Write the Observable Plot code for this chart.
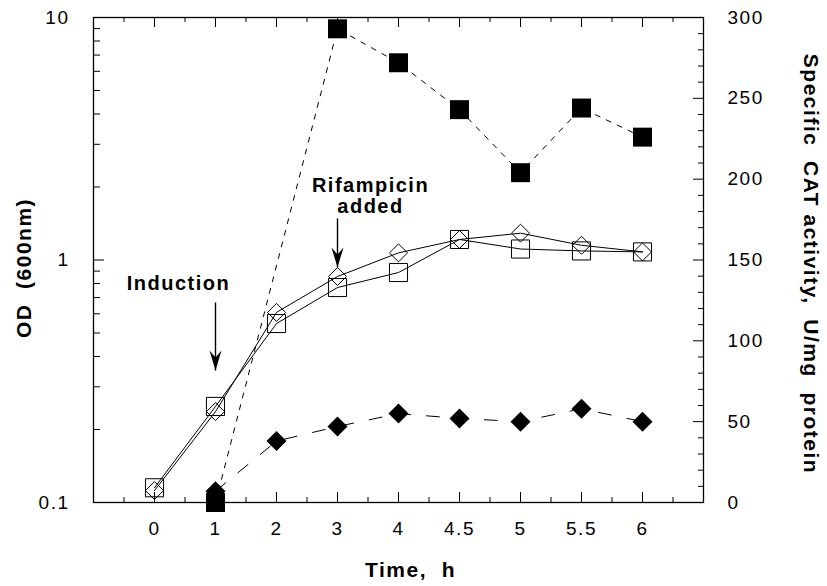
<!DOCTYPE html>
<html>
<head>
<meta charset="utf-8">
<script src="https://cdn.jsdelivr.net/npm/d3@7"></script>
<script src="https://cdn.jsdelivr.net/npm/@observablehq/plot@0.6"></script>
<style>
  html, body { margin: 0; padding: 0; background: white; }
  #wrap { position: relative; width: 827px; height: 586px; background: white; }
  #wrap svg { position: absolute; left: 0; top: 0; }
</style>
</head>
<body>
<div id="wrap"></div>
<script>
// ---- data ----
const times = ["0", "1", "2", "3", "4", "4.5", "5", "5.5", "6"];
// OD (600nm), open squares / open diamonds (left, log axis)
const odOpenSquare  = [0.115, 0.249, 0.547, 0.77, 0.888, 1.215, 1.11, 1.09, 1.08];
const odOpenDiamond = [0.112, 0.237, 0.608, 0.855, 1.07, 1.215, 1.29, 1.15, 1.08];
// Specific CAT activity (right axis)
const catSquareTimes = ["1", "3", "4", "4.5", "5", "5.5", "6"];
const catFilledSquare = [0, 293, 272, 243, 204, 244, 226];
const catDiamondTimes = ["1", "2", "3", "4", "4.5", "5", "5.5", "6"];
const catFilledDiamond = [7, 38, 47, 55, 52, 50, 58, 50];
// tick values
const odTickLabels = [0.1, 1, 10];
const odMinorTicks = [0.2, 0.3, 0.4, 0.5, 0.6, 0.7, 0.8, 0.9, 2, 3, 4, 5, 6, 7, 8, 9];
const catTickLabels = [0, 50, 100, 150, 200, 250, 300];
const catMinorTicks = [10, 20, 30, 40, 60, 70, 80, 90, 110, 120, 130, 140, 160, 170, 180, 190, 210, 220, 230, 240, 260, 270, 280, 290];
const xMajorTicks = [0, 1, 2, 3, 4, 5, 6, 7, 8];
const xMinorTicks = [-0.5, 0.5, 1.5, 2.5, 3.5, 4.5, 5.5, 6.5, 7.5, 8.5];
// annotations (x at a time point, y in OD units)
const annotations = [
  {label: "Induction", t: "1", textOD: 0.80, dx: -37, fromOD: 0.668, toOD: 0.35},
  {label: "Rifampicin\nadded", t: "3", textOD: 1.836, dx: 33, fromOD: 1.483, toOD: 0.931}
];

// ---- derived tables ----
const xi = t => times.indexOf(t);
const odSq = times.map((t, i) => ({t, v: odOpenSquare[i]}));
const odDi = times.map((t, i) => ({t, v: odOpenDiamond[i]}));
const catSq = catSquareTimes.map((t, i) => ({t, v: catFilledSquare[i]}));
const catDi = catDiamondTimes.map((t, i) => ({t, v: catFilledDiamond[i]}));

const W = 827, H = 586;
const M = {top: 17, right: 124, bottom: 84, left: 93};
const innerW = W - M.left - M.right;
const innerH = H - M.top - M.bottom;
const font = "'Liberation Sans', Arial, Helvetica, sans-serif";
const baseStyle = {fontFamily: font, letterSpacing: "1.5px", background: "transparent", color: "black", overflow: "visible"};
const xScale = {type: "linear", domain: [-1, 9], axis: null};

const arrowHead = {
  draw(ctx) {
    ctx.moveTo(0, 0);
    ctx.lineTo(-6, -20);
    ctx.lineTo(0, -13);
    ctx.lineTo(6, -20);
    ctx.closePath();
  }
};

// ---- left (OD) plot ----
const plotOD = Plot.plot({
  width: W, height: H,
  marginTop: M.top, marginRight: M.right, marginBottom: M.bottom, marginLeft: M.left,
  style: baseStyle,
  x: xScale,
  y: {type: "log", domain: [0.1, 10], axis: null},
  marks: [
    // x ticks bottom & top (inward)
    Plot.tickX(xMajorTicks, {x: d => d, insetTop: innerH - 10, stroke: "black"}),
    Plot.tickX(xMinorTicks, {x: d => d, insetTop: innerH - 5, stroke: "black"}),
    Plot.tickX(xMajorTicks, {x: d => d, insetBottom: innerH - 10, stroke: "black"}),
    Plot.tickX(xMinorTicks, {x: d => d, insetBottom: innerH - 5, stroke: "black"}),
    // left ticks (inward)
    Plot.tickY(odTickLabels, {y: d => d, insetRight: innerW - 11, stroke: "black"}),
    Plot.tickY(odMinorTicks, {y: d => d, insetRight: innerW - 7, stroke: "black"}),
    Plot.frame({stroke: "black", strokeWidth: 1.3}),
    // tick labels
    Plot.text(times, {x: (d, i) => i, frameAnchor: "bottom", lineAnchor: "middle", dy: 26, text: d => d, fontSize: 19, fill: "black"}),
    Plot.text(odTickLabels, {y: d => d, frameAnchor: "left", dx: -24, textAnchor: "end", text: d => String(d), fontSize: 19, fill: "black"}),
    // axis titles
    Plot.text(["OD  (600nm)"], {frameAnchor: "left", textAnchor: "middle", lineAnchor: "middle", dx: -69, dy: 8, rotate: -90, fontSize: 21, fontWeight: "bold", fill: "black"}),
    Plot.text(["Time,  h"], {frameAnchor: "bottom", textAnchor: "middle", lineAnchor: "middle", dx: 12, dy: 68, fontSize: 21, fontWeight: "bold", fill: "black"}),
    // OD series
    Plot.line(odSq, {x: d => xi(d.t), y: "v", stroke: "black", strokeWidth: 1}),
    Plot.line(odDi, {x: d => xi(d.t), y: "v", stroke: "black", strokeWidth: 1}),
    Plot.dot(odSq, {x: d => xi(d.t), y: "v", symbol: "square", r: 10.2, stroke: "black", fill: "none", strokeWidth: 1}),
    Plot.dot(odDi, {x: d => xi(d.t), y: "v", symbol: "diamond2", r: 8.1, stroke: "black", fill: "none", strokeWidth: 1}),
    // annotations
    ...annotations.map(a => Plot.text([a], {x: d => xi(d.t), y: "textOD", dx: a.dx, text: "label", fontSize: 20, fontWeight: "bold", lineHeight: 1.05, fill: "black"})),
    Plot.link(annotations, {x1: d => xi(d.t), x2: d => xi(d.t), y1: "fromOD", y2: "toOD", stroke: "black", strokeWidth: 1.4}),
    Plot.dot(annotations, {x: d => xi(d.t), y: "toOD", symbol: arrowHead, fill: "black", stroke: "none"})
  ]
});

// ---- right (CAT activity) plot ----
const plotCAT = Plot.plot({
  width: W, height: H,
  marginTop: M.top, marginRight: M.right, marginBottom: M.bottom, marginLeft: M.left,
  style: baseStyle,
  x: xScale,
  y: {type: "linear", domain: [0, 300], axis: null},
  marks: [
    Plot.tickY(catTickLabels, {y: d => d, insetLeft: innerW - 10, stroke: "black"}),
    Plot.tickY(catMinorTicks, {y: d => d, insetLeft: innerW - 5, stroke: "black"}),
    Plot.text(catTickLabels, {y: d => d, frameAnchor: "right", dx: 24, textAnchor: "start", text: d => String(d), fontSize: 19, fill: "black"}),
    Plot.text(["Specific  CAT activity,  U/mg  protein"], {frameAnchor: "right", textAnchor: "middle", lineAnchor: "middle", dx: 107, dy: 4, rotate: 90, fontSize: 21, fontWeight: "bold", fill: "black"}),
    Plot.line(catSq, {x: d => xi(d.t), y: "v", stroke: "black", strokeWidth: 1, strokeDasharray: "5,7"}),
    Plot.line(catDi, {x: d => xi(d.t), y: "v", stroke: "black", strokeWidth: 1, strokeDasharray: "13,16"}),
    Plot.dot(catSq, {x: d => xi(d.t), y: "v", symbol: "square", r: 10.7, fill: "black", stroke: "none"}),
    Plot.dot(catDi, {x: d => xi(d.t), y: "v", symbol: "diamond2", r: 9, fill: "black", stroke: "none"})
  ]
});

const wrap = document.getElementById("wrap");
wrap.appendChild(plotOD);
wrap.appendChild(plotCAT);
</script>
</body>
</html>
